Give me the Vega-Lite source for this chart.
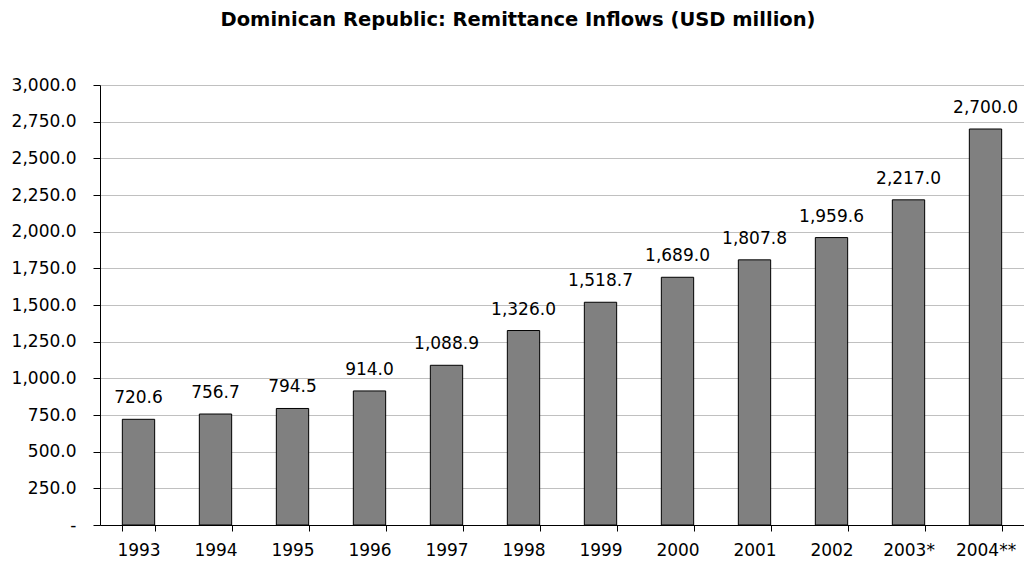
{
  "$schema": "https://vega.github.io/schema/vega-lite/v6.json",
  "width": 924,
  "height": 440,
  "autosize": {"type": "none"},
  "padding": {"left": 100, "top": 85, "right": 0, "bottom": 38},
  "background": "white",
  "title": {
    "text": "Dominican Republic: Remittance Inflows (USD million)",
    "font": "DejaVu Sans",
    "fontSize": 19.5,
    "fontWeight": "bold",
    "color": "black",
    "anchor": "middle",
    "frame": "group",
    "offset": 46,
    "dx": -44
  },
  "data": {
    "values": [
      {"year": "1993", "value": 720.6},
      {"year": "1994", "value": 756.7},
      {"year": "1995", "value": 794.5},
      {"year": "1996", "value": 914.0},
      {"year": "1997", "value": 1088.9},
      {"year": "1998", "value": 1326.0},
      {"year": "1999", "value": 1518.7},
      {"year": "2000", "value": 1689.0},
      {"year": "2001", "value": 1807.8},
      {"year": "2002", "value": 1959.6},
      {"year": "2003*", "value": 2217.0},
      {"year": "2004**", "value": 2700.0}
    ]
  },
  "config": {
    "view": {"stroke": null},
    "font": "DejaVu Sans"
  },
  "encoding": {
    "x": {
      "field": "year",
      "type": "nominal",
      "sort": null,
      "scale": {"paddingInner": 0.58, "paddingOuter": 0.29},
      "axis": {
        "title": null,
        "labelAngle": 0,
        "labelFont": "DejaVu Sans",
        "labelFontSize": 17,
        "labelColor": "black",
        "labelPadding": 11,
        "domainColor": "black",
        "domainWidth": 1,
        "tickColor": "black",
        "tickSize": 6,
        "tickBand": "extent",
        "grid": false
      }
    },
    "y": {
      "field": "value",
      "type": "quantitative",
      "scale": {"domain": [0, 3000], "nice": false},
      "axis": {
        "title": null,
        "values": [0, 250, 500, 750, 1000, 1250, 1500, 1750, 2000, 2250, 2500, 2750, 3000],
        "labelExpr": "datum.value == 0 ? '-' : format(datum.value, ',.1f')",
        "labelFont": "DejaVu Sans",
        "labelFontSize": 17,
        "labelColor": "black",
        "labelPadding": 17,
        "domainColor": "black",
        "tickColor": "black",
        "tickSize": 7,
        "gridColor": "#c0c0c0",
        "gridWidth": 1
      }
    }
  },
  "layer": [
    {
      "mark": {"type": "bar", "color": "#808080", "stroke": "black", "strokeWidth": 1}
    },
    {
      "mark": {"type": "text", "baseline": "alphabetic", "dy": -16, "font": "DejaVu Sans", "fontSize": 17, "color": "black"},
      "encoding": {
        "text": {"field": "value", "type": "quantitative", "format": ",.1f"}
      }
    }
  ]
}
